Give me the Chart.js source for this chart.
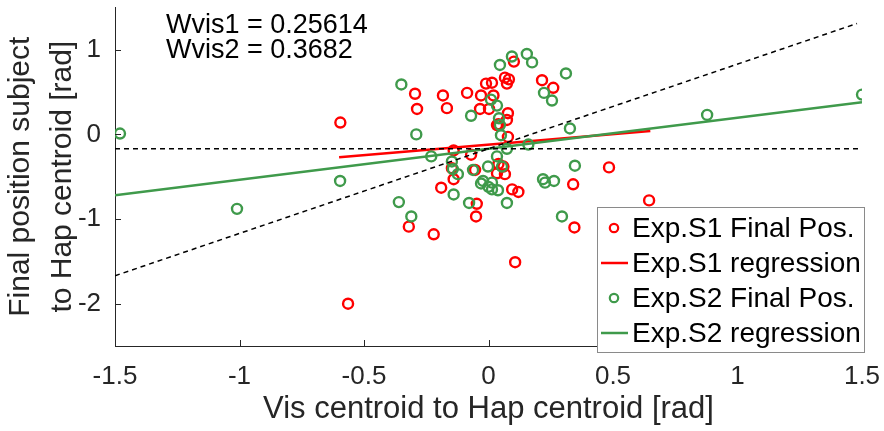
<!DOCTYPE html>
<html lang="en">
<head>
  <meta charset="UTF-8">
  <title>Vis vs Hap centroid</title>
  <style>
    body { margin: 0; background: #ffffff; }
    #wrap { width: 884px; height: 431px; }
  </style>
  <script src="https://cdn.jsdelivr.net/npm/chart.js"></script>
</head>
<body>
  <div id="wrap"><canvas id="chart" width="884" height="431"></canvas></div>
  <script>
    // Exp.S1 final positions
    const s1X = [-0.595, -0.564, -0.295, -0.287, -0.183, -0.167, -0.086, -0.030, -0.010, 0.014,
                 0.020, 0.066, 0.082, 0.074, 0.102, 0.215, 0.260, -0.034, 0.002, 0.078,
                 0.034, 0.074, 0.078, -0.140, -0.070, -0.147, -0.054, -0.190, -0.140, -0.047,
                 -0.050, -0.320, -0.220, 0.345, 0.107, 0.095, 0.120, 0.340, 0.484, 0.645,
                 0.040, 0.066, 0.034, 0.040, 0.060];
    const s1Y = [0.14, -2.00, 0.48, 0.30, 0.46, 0.31, 0.49, 0.46, 0.60, 0.61,
                 0.46, 0.67, 0.65, 0.60, 0.86, 0.64, 0.55, 0.30, 0.30, 0.25,
                 0.11, 0.17, -0.03, -0.19, -0.24, -0.40, -0.42, -0.63, -0.53, -0.82,
                 -0.97, -1.09, -1.18, -1.10, -1.51, -0.65, -0.68, -0.59, -0.39, -0.78,
                 -0.35, -0.47, -0.46, 0.12, -0.38];
    // Exp.S2 final positions
    const s2X = [-1.48, -1.01, -0.596, -0.350, -0.290, -0.230, -0.070, 0.046, 0.094, 0.154,
                 0.175, 0.311, 0.223, 0.255, 0.010, 0.034, 0.042, 0.046, 0.050, 0.327,
                 0.160, 0.347, 0.219, 0.227, 0.263, -0.147, -0.143, -0.123, -0.062, -0.002,
                 -0.022, 0.014, 0.034, 0.054, 0.014, 0.038, 0.074, -0.360, -0.310, -0.140,
                 -0.078, 0.074, 0.295, 0.878, 1.500, -0.030, 0.000];
    const s2Y = [0.01, -0.88, -0.55, 0.59, 0.00, -0.26, 0.22, 0.82, 0.92, 0.95,
                 0.85, 0.72, 0.49, 0.40, 0.41, 0.34, 0.19, 0.11, -0.01, 0.07,
                 -0.12, -0.37, -0.53, -0.57, -0.55, -0.32, -0.41, -0.47, -0.42, -0.38,
                 -0.55, -0.57, -0.26, -0.38, -0.65, -0.66, -0.17, -0.80, -0.97, -0.71,
                 -0.81, -0.81, -0.97, 0.23, 0.47, -0.58, -0.62];
    // regression lines (end points)
    const s1RegX = [-0.6, 0.65];
    const s1RegY = [-0.27, 0.04];
    const s2RegX = [-1.5, 1.5];
    const s2RegY = [-0.72, 0.38];
    // reference lines
    const unityX = [-1.5, 1.48];
    const unityY = [-1.67, 1.31];
    const flatX = [-1.5, 1.5];
    const flatY = [-0.17, -0.17];
    const xTicks = [-1.5, -1, -0.5, 0, 0.5, 1, 1.5];
    const yTicks = [-2, -1, 0, 1];
    const weightText = ['Wvis1 = 0.25614', 'Wvis2 = 0.3682'];
    const legendLabels = ['Exp.S1 Final Pos.', 'Exp.S1 regression', 'Exp.S2 Final Pos.', 'Exp.S2 regression'];

    const RED = '#ff0000';
    const GREEN = '#3f9a4b';
    const TXT = '#262626';
    const FONT = "Arial, 'Liberation Sans', sans-serif";

    function pts(xs, ys) {
      return xs.map((x, i) => ({ x: x, y: ys[i] }));
    }

    // inward tick marks, annotation text, legend box
    const extras = {
      id: 'extras',
      afterDraw(chart) {
        const ctx = chart.ctx;
        const xs = chart.scales.x, ys = chart.scales.y;
        const area = chart.chartArea;
        ctx.save();
        ctx.strokeStyle = TXT;
        ctx.lineWidth = 1;
        xTicks.forEach(v => {
          const px = Math.round(xs.getPixelForValue(v)) + 0.5;
          ctx.beginPath();
          ctx.moveTo(px, area.bottom);
          ctx.lineTo(px, area.bottom - 6);
          ctx.stroke();
        });
        yTicks.forEach(v => {
          const py = Math.round(ys.getPixelForValue(v)) + 0.5;
          ctx.beginPath();
          ctx.moveTo(area.left, py);
          ctx.lineTo(area.left + 6, py);
          ctx.stroke();
        });

        ctx.fillStyle = '#000000';
        ctx.font = '27px ' + FONT;
        ctx.textBaseline = 'alphabetic';
        ctx.textAlign = 'left';
        ctx.fillText(weightText[0], 166, 33);
        ctx.fillText(weightText[1], 166, 58);

        // legend
        const bx = 597, by = 207, bw = 267, bh = 145;
        ctx.fillStyle = '#ffffff';
        ctx.fillRect(bx, by, bw, bh);
        ctx.strokeStyle = '#8a8a8a';
        ctx.lineWidth = 1;
        ctx.strokeRect(bx + 0.5, by + 0.5, bw, bh);
        const colors = [RED, RED, GREEN, GREEN];
        const rowY = [228, 263, 298, 333];
        ctx.font = '28px ' + FONT;
        ctx.textBaseline = 'middle';
        legendLabels.forEach((lab, i) => {
          ctx.strokeStyle = colors[i];
          if (i % 2 === 0) {
            ctx.lineWidth = 2.2;
            ctx.beginPath();
            ctx.arc(614, rowY[i], 4.2, 0, Math.PI * 2);
            ctx.stroke();
          } else {
            ctx.lineWidth = 2.5;
            ctx.beginPath();
            ctx.moveTo(601, rowY[i]);
            ctx.lineTo(628, rowY[i]);
            ctx.stroke();
          }
          ctx.fillStyle = '#000000';
          ctx.fillText(lab, 632, rowY[i] + 1);
        });
        ctx.restore();
      }
    };

    new Chart(document.getElementById('chart').getContext('2d'), {
      type: 'scatter',
      data: {
        datasets: [
          {
            label: 'unity', type: 'line', data: pts(unityX, unityY), order: 0,
            borderColor: '#000000', borderWidth: 1.5, borderDash: [5, 4], pointRadius: 0, fill: false
          },
          {
            label: 'flat', type: 'line', data: pts(flatX, flatY), order: 0,
            borderColor: '#000000', borderWidth: 1.5, borderDash: [5, 4], pointRadius: 0, fill: false
          },
          {
            label: legendLabels[3], type: 'line', data: pts(s2RegX, s2RegY), order: 1,
            borderColor: GREEN, borderWidth: 2.5, pointRadius: 0, fill: false
          },
          {
            label: legendLabels[2], data: pts(s2X, s2Y), order: 2,
            borderColor: GREEN, backgroundColor: 'rgba(0,0,0,0)', borderWidth: 2.4, pointRadius: 5
          },
          {
            label: legendLabels[1], type: 'line', data: pts(s1RegX, s1RegY), order: 3,
            borderColor: RED, borderWidth: 2.5, pointRadius: 0, fill: false
          },
          {
            label: legendLabels[0], data: pts(s1X, s1Y), order: 4,
            borderColor: RED, backgroundColor: 'rgba(0,0,0,0)', borderWidth: 2.4, pointRadius: 5
          }
        ]
      },
      options: {
        responsive: false,
        animation: false,
        devicePixelRatio: 1,
        layout: { padding: { top: 5, right: 22, left: 0, bottom: 0 } },
        plugins: { legend: { display: false }, tooltip: { enabled: false } },
        scales: {
          x: {
            type: 'linear', min: -1.5, max: 1.5,
            afterBuildTicks: s => { s.ticks = xTicks.map(v => ({ value: v })); },
            afterFit: s => { s.height = 85; s.paddingLeft = 0; s.paddingRight = 0; },
            grid: { drawOnChartArea: false, drawTicks: false },
            border: { display: true, color: TXT, width: 1 },
            ticks: { color: TXT, padding: 15, font: { family: FONT, size: 26 }, callback: v => String(v) },
            title: {
              display: true, text: 'Vis centroid to Hap centroid [rad]', color: TXT,
              padding: 3, font: { family: FONT, size: 31 }
            }
          },
          y: {
            type: 'linear', min: -2.5, max: 1.5,
            afterBuildTicks: s => { s.ticks = yTicks.map(v => ({ value: v })); },
            afterFit: s => { s.width = 115; s.paddingTop = 0; s.paddingBottom = 0; },
            grid: { drawOnChartArea: false, drawTicks: false },
            border: { display: true, color: TXT, width: 1 },
            ticks: { color: TXT, padding: 14, font: { family: FONT, size: 26 }, callback: v => String(v) },
            title: {
              display: true, text: ['Final position subject', 'to Hap centroid [rad]'], color: TXT,
              padding: 0, font: { family: FONT, size: 30, lineHeight: 1.4 }
            }
          }
        }
      },
      plugins: [extras]
    });
  </script>
</body>
</html>
